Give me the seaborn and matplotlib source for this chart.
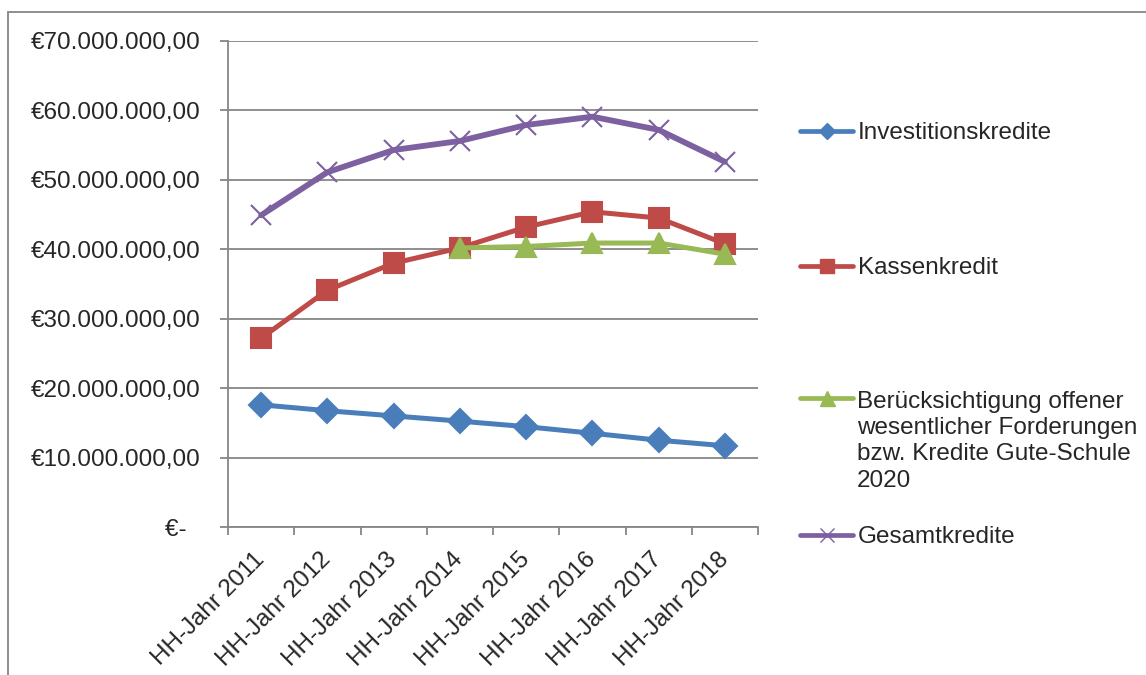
import matplotlib
matplotlib.use("Agg")
import matplotlib.pyplot as plt
import matplotlib.ticker as mticker
from matplotlib.lines import Line2D
from matplotlib.patches import Rectangle
import numpy as np
import pandas as pd
import seaborn as sns

# data
years = ["HH-Jahr 2011", "HH-Jahr 2012", "HH-Jahr 2013", "HH-Jahr 2014",
         "HH-Jahr 2015", "HH-Jahr 2016", "HH-Jahr 2017", "HH-Jahr 2018"]
investitionskredite = [17.6e6, 16.75e6, 16.0e6, 15.25e6, 14.45e6, 13.5e6, 12.5e6, 11.7e6]
kassenkredit = [27.2e6, 34.1e6, 38.0e6, 40.2e6, 43.2e6, 45.4e6, 44.5e6, 40.8e6]
beruecksichtigung = [np.nan, np.nan, np.nan, 40.2e6, 40.4e6, 40.9e6, 40.9e6, 39.3e6]
gesamtkredite = [44.9e6, 51.1e6, 54.3e6, 55.6e6, 57.9e6, 59.1e6, 57.2e6, 52.6e6]

series_names = ["Investitionskredite", "Kassenkredit",
                "Berücksichtigung offener\nwesentlicher Forderungen\nbzw. Kredite Gute-Schule\n2020",
                "Gesamtkredite"]
series_values = [investitionskredite, kassenkredit, beruecksichtigung, gesamtkredite]

colors = ["#4A7EBB", "#BE4B48", "#98B954", "#7D60A0"]
markers = ["D", "s", "^", "x"]
marker_sizes = [12, 14, 15, 14]
line_widths = [3.6, 3.6, 3.6, 4.2]

sns.set_style("white")
plt.rcParams["font.family"] = ["Liberation Sans", "DejaVu Sans"]
FS = 17.5

rows = []
for name, vals in zip(series_names, series_values):
    for i, v in enumerate(vals):
        rows.append({"pos": i, "Jahr": years[i], "Reihe": name, "Wert": v})
df = pd.DataFrame(rows)

fig = plt.figure(figsize=(11.46, 6.75), dpi=100)
ax = fig.add_axes([228 / 1146, 1 - 527 / 675, 530 / 1146, 486 / 675])

for name, c, m, ms, lw in zip(series_names, colors, markers, marker_sizes, line_widths):
    sub = df[df["Reihe"] == name].dropna()
    sns.lineplot(data=sub, x="pos", y="Wert", ax=ax, color=c, marker=m,
                 markersize=ms, markeredgecolor=c, markeredgewidth=1.5,
                 linewidth=lw, sort=False, legend=False, zorder=3)

grid_col = "#868686"
ax.set_ylim(0, 70e6)
ax.set_xlim(-0.5, len(years) - 0.5)
ax.yaxis.set_major_locator(mticker.MultipleLocator(10e6))


def euro(v, _):
    if v == 0:
        return "€-  "
    s = f"{v:,.2f}".replace(",", "X").replace(".", ",").replace("X", ".")
    return "€" + s


ax.yaxis.set_major_formatter(mticker.FuncFormatter(euro))
ax.grid(axis="y", color=grid_col, linewidth=1.3)
ax.set_axisbelow(True)

ax.set_xticks(np.arange(len(years) + 1) - 0.5)
ax.set_xticklabels([])
ax.set_xticks(np.arange(len(years)), minor=True)
ax.set_xticklabels(years, minor=True, rotation=45, ha="right", va="center",
                   rotation_mode="anchor", fontsize=FS)
ax.tick_params(axis="x", which="major", bottom=True, length=6, width=1.3,
               color=grid_col, direction="out")
ax.tick_params(axis="x", which="minor", bottom=True, length=0, pad=21)
ax.tick_params(axis="y", left=True, length=6, width=1.3, color=grid_col,
               labelsize=FS, pad=14)

ax.set_xlabel("")
ax.set_ylabel("")
for side in ["top", "right"]:
    ax.spines[side].set_visible(False)
for side in ["left", "bottom"]:
    ax.spines[side].set_color(grid_col)
    ax.spines[side].set_linewidth(1.3)

# legend entries to the right, spaced like the original
legend_y = [133, 268, 400, 537]
for name, c, m, ms, y in zip(series_names, colors, markers, marker_sizes, legend_y):
    h = Line2D([], [], color=c, marker=m, markersize=ms * 0.72,
               markeredgecolor=c, linewidth=3.4, solid_capstyle="round")
    multi = "\n" in name
    fig.legend(handles=[h], labels=["" if multi else name], loc="center left",
               bbox_to_anchor=(800 / 1146, 1 - y / 675), frameon=False, fontsize=FS,
               handlelength=2.2, handletextpad=0.18, borderpad=0,
               borderaxespad=0)
    if multi:
        fig.text(857 / 1146, 1 - 391 / 675, name, fontsize=FS, va="top",
                 ha="left", linespacing=1.25)

# outer chart border
fig.patches.append(Rectangle((8 / 1146, -0.5), 2, 0.5 + 1 - 12 / 675,
                             transform=fig.transFigure, fill=False,
                             edgecolor=grid_col, linewidth=1.3))

fig.savefig("out.png", dpi=100)
